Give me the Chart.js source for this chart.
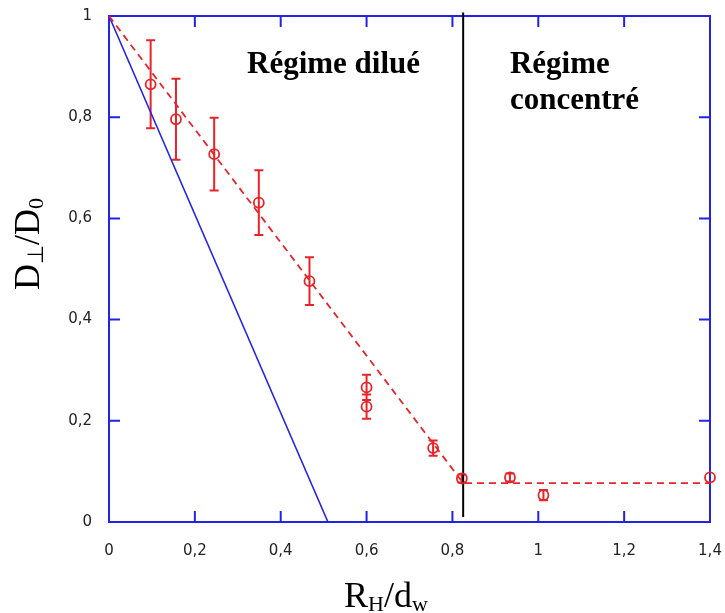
<!DOCTYPE html>
<html>
<head>
<meta charset="utf-8">
<script src="https://cdn.jsdelivr.net/npm/chart.js@4.4.1/dist/chart.umd.min.js"></script>
<style>
  html, body { margin: 0; padding: 0; background: #fff; }
  canvas { display: block; }
</style>
</head>
<body>
<canvas id="chart" width="725" height="613"></canvas>
<script>
// measured points (R_H/d_w, D⊥/D0) with vertical error half-widths
const pointX = [0.097, 0.156, 0.245, 0.349, 0.467, 0.600, 0.600, 0.755, 0.822, 0.934, 1.012, 1.400];
const pointY = [0.865, 0.796, 0.727, 0.631, 0.476, 0.266, 0.228, 0.146, 0.086, 0.088, 0.053, 0.088];
const pointErr = [0.087, 0.080, 0.072, 0.064, 0.047, 0.025, 0.024, 0.015, 0.008, 0.008, 0.010, 0];

// dashed fit through the data
const fitX = [0, 0.825, 1.4];
const fitY = [1, 0.077, 0.077];

// blue reference line
const refX = [0, 0.51];
const refY = [1, 0];

// black separator between the two regimes
const sepX = [0.825, 0.825];
const sepY = [0.01, 1.007];

const xTicks = [0, 0.2, 0.4, 0.6, 0.8, 1, 1.2, 1.4];
const yTicks = [0, 0.2, 0.4, 0.6, 0.8, 1];

const labels = [
  { lines: ['Régime dilué'], x: 0.3215, y: 0.887 },
  { lines: ['Régime', 'concentré'], x: 0.934, y: 0.887 },
];

const RED = '#e8242a';
const BLUE = '#2323e6';

const toPoints = (xs, ys) => xs.map((x, i) => ({ x, y: ys[i] }));
const fmt = v => String(Math.round(v * 10) / 10).replace('.', ',');

const frame = {
  id: 'frame',
  beforeDatasetsDraw(chart) {
    const { ctx, chartArea: a, scales: { x, y } } = chart;
    ctx.save();
    ctx.strokeStyle = BLUE;
    ctx.lineWidth = 2;
    ctx.strokeRect(a.left, a.top, a.right - a.left, a.bottom - a.top);
    const tl = 11;
    ctx.beginPath();
    xTicks.forEach(v => {
      const px = x.getPixelForValue(v);
      ctx.moveTo(px, a.bottom); ctx.lineTo(px, a.bottom - tl);
      ctx.moveTo(px, a.top); ctx.lineTo(px, a.top + tl);
    });
    yTicks.forEach(v => {
      const py = y.getPixelForValue(v);
      ctx.moveTo(a.left, py); ctx.lineTo(a.left + tl, py);
      ctx.moveTo(a.right, py); ctx.lineTo(a.right - tl, py);
    });
    ctx.stroke();

    // error bars
    ctx.strokeStyle = RED;
    ctx.lineWidth = 2;
    ctx.beginPath();
    pointX.forEach((v, i) => {
      if (!pointErr[i]) return;
      const px = x.getPixelForValue(v);
      const top = y.getPixelForValue(pointY[i] + pointErr[i]);
      const bot = y.getPixelForValue(pointY[i] - pointErr[i]);
      ctx.moveTo(px, top); ctx.lineTo(px, bot);
      ctx.moveTo(px - 4.5, top); ctx.lineTo(px + 4.5, top);
      ctx.moveTo(px - 4.5, bot); ctx.lineTo(px + 4.5, bot);
    });
    ctx.stroke();
    ctx.restore();
  },
  afterDraw(chart) {
    const { ctx, scales: { x, y } } = chart;
    ctx.save();
    ctx.fillStyle = '#000';

    // region labels
    ctx.font = 'bold 31px "Liberation Serif", "Times New Roman", serif';
    ctx.textBaseline = 'alphabetic';
    labels.forEach(l => {
      const px = x.getPixelForValue(l.x);
      const py = y.getPixelForValue(l.y);
      l.lines.forEach((t, i) => ctx.fillText(t, px, py + i * 36));
    });

    // axis titles with subscripts
    const big = '36px "Liberation Serif", "Times New Roman", serif';
    const small = '22px "Liberation Serif", "Times New Roman", serif';
    const parts = (arr) => arr.map(([t, sub]) => {
      ctx.font = sub ? small : big;
      return { t, sub, w: ctx.measureText(t).width };
    });
    const drawParts = (ps, x0, base) => {
      let cx = x0;
      ps.forEach(p => {
        ctx.font = p.sub ? small : big;
        ctx.fillText(p.t, cx, base + (p.sub ? 4 : 0));
        cx += p.w;
      });
    };

    const xt = parts([['R'], ['H', 1], ['/'], ['d'], ['w', 1]]);
    const xw = xt.reduce((s, p) => s + p.w, 0);
    drawParts(xt, 386 - xw / 2, 607);

    const yt = parts([['D'], ['⊥', 1], ['/'], ['D'], ['0', 1]]);
    const yw = yt.reduce((s, p) => s + p.w, 0);
    ctx.translate(39, 244);
    ctx.rotate(-Math.PI / 2);
    drawParts(yt, -yw / 2, 0);
    ctx.restore();
  },
};

new Chart(document.getElementById('chart'), {
  type: 'scatter',
  data: {
    datasets: [
      {
        data: toPoints(pointX, pointY),
        pointStyle: 'circle',
        pointRadius: 5,
        pointBorderWidth: 1.8,
        pointBorderColor: RED,
        pointBackgroundColor: 'rgba(0,0,0,0)',
        showLine: false,
        clip: false,
      },
      {
        data: toPoints(fitX, fitY),
        showLine: true,
        borderColor: RED,
        borderWidth: 1.8,
        borderDash: [7, 5],
        pointRadius: 0,
        clip: false,
      },
      {
        data: toPoints(refX, refY),
        showLine: true,
        borderColor: BLUE,
        borderWidth: 1.6,
        pointRadius: 0,
        clip: false,
      },
      {
        data: toPoints(sepX, sepY),
        showLine: true,
        borderColor: '#000',
        borderWidth: 2,
        pointRadius: 0,
        clip: false,
      },
    ],
  },
  options: {
    responsive: false,
    animation: false,
    devicePixelRatio: 1,
    layout: { padding: { top: 16, right: 15, left: 0, bottom: 0 } },
    plugins: { legend: { display: false }, tooltip: { enabled: false } },
    scales: {
      x: {
        type: 'linear', min: 0, max: 1.4,
        afterBuildTicks: s => { s.ticks = xTicks.map(v => ({ value: v })); },
        ticks: { callback: fmt, color: '#222', padding: 20, maxRotation: 0, font: { family: '"DejaVu Sans", sans-serif', size: 15 } },
        grid: { display: false, drawTicks: false },
        border: { display: false },
        afterFit: s => { s.height = 91; s.paddingLeft = 0; s.paddingRight = 0; },
      },
      y: {
        type: 'linear', min: 0, max: 1,
        afterBuildTicks: s => { s.ticks = yTicks.map(v => ({ value: v })); },
        ticks: { callback: fmt, color: '#222', padding: 17, font: { family: '"DejaVu Sans", sans-serif', size: 15 } },
        grid: { display: false, drawTicks: false },
        border: { display: false },
        afterFit: s => { s.width = 109; s.paddingTop = 0; s.paddingBottom = 0; },
      },
    },
  },
  plugins: [frame],
});
</script>
</body>
</html>
